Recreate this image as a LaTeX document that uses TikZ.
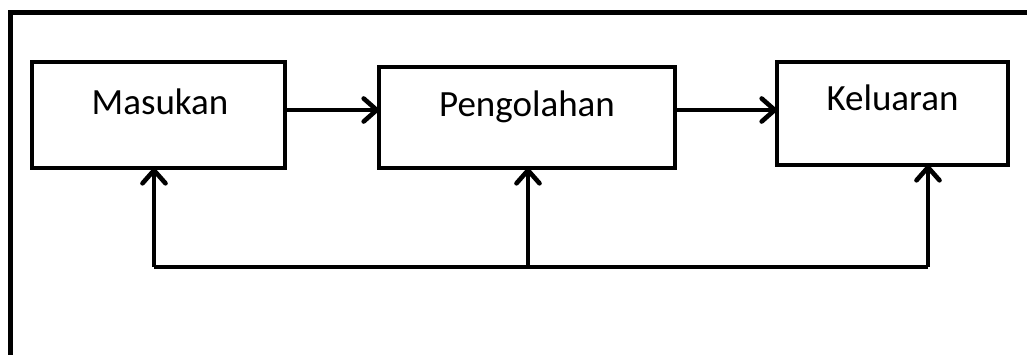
\documentclass[tikz,border=0pt]{standalone}
\usepackage{fontspec}
\setmainfont{Carlito}
\usetikzlibrary{arrows.meta}

\tikzset{
  box/.style={draw=black, line width=4.6pt, fill=white, rectangle,
    inner sep=0pt, outer sep=0pt},
  label/.style={anchor=base, inner sep=0pt, font=\fontsize{37}{41}\selectfont},
  wire/.style={draw=black, line width=4.6pt},
  flow/.style={wire, -{Straight Barb[length=13pt, width=23pt, line cap=round, line join=round]}},
}

\begin{document}
\begin{tikzpicture}[x=1pt, y=-1pt]
  \useasboundingbox (0,0) rectangle (1027,354);
  \clip (0,0) rectangle (1027,354);

  % outer frame (open towards right and bottom)
  \draw[wire] (10.5,360) -- (10.5,12.5) -- (1035,12.5);

  % the three blocks
  \node[box, minimum width=253pt, minimum height=106pt] (m) at (158.5,115) {};
  \node[box, minimum width=296pt, minimum height=101pt] (p) at (527,117.5) {};
  \node[box, minimum width=231pt, minimum height=103pt] (k) at (892.5,113.5) {};

  \node[label] (tm) at (160,114) {Masukan};
  \node[label] (tp) at (527,116) {Pengolahan};
  \node[label] (tk) at (892.5,110) {Keluaran};

  % forward flow
  \draw[flow] (m.east |- 0,110) -- (p.west |- 0,110);
  \draw[flow] (p.east |- 0,110) -- (k.west |- 0,110);

  % feedback line
  \coordinate (f1) at (154,267);
  \coordinate (f2) at (528,267);
  \coordinate (f3) at (928,267);
  \draw[wire] (f1) -- (f3);
  \draw[flow] (f1) -- (f1 |- m.south);
  \draw[flow] (f2) -- (f2 |- p.south);
  \draw[flow] (f3) -- (f3 |- k.south);
\end{tikzpicture}
\end{document}
